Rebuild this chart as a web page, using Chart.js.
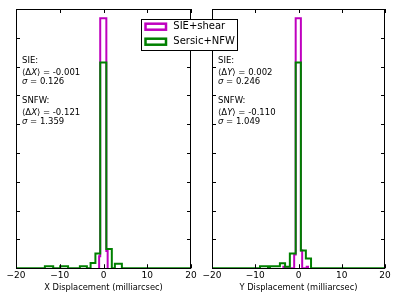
<!DOCTYPE html>
<html>
<head>
<meta charset="utf-8">
<script src="https://cdn.jsdelivr.net/npm/chart.js@4.4.1/dist/chart.umd.min.js"></script>
<style>
    html, body { margin: 0; padding: 0; background: #fff; }
    #wrap { position: relative; width: 399px; height: 299px; overflow: hidden; }
    #wrap canvas { position: absolute; top: 0; }
    #chartX { left: 0; z-index: 2; }
    #chartY { left: 200px; z-index: 1; }
</style>
</head>
<body>
<div id="wrap">
    <canvas id="chartX" width="399" height="299"></canvas>
    <canvas id="chartY" width="199" height="299"></canvas>
</div>
<script>
// Histogram data (bin edges + bar heights, arbitrary units)
const seriesNames = ['SIE+shear', 'Sersic+NFW'];
const seriesColors = ['#bf00bf', '#008000'];

// X displacement panel
const edgesXSie = [-1.0, -0.75, 0.65, 0.95];
const countsXSie = [0.42, 8.68, 0.6];
const edgesXNfw = [-20, -13.4, -11.5, -9.9, -8.1, -5.4, -3.8, -2.95, -1.85, -0.75, 0.65, 1.9, 2.6, 4.2, 20];
const countsXNfw = [0, 0.07, 0, 0.07, 0, 0.07, 0, 0.18, 0.51, 7.14, 0.67, 0, 0.16, 0];

// Y displacement panel
const edgesYSie = [-3.5, -3.2, -1.0, -0.65, 0.55, 0.85, 1.9, 2.2];
const countsYSie = [0.05, 0, 0.48, 8.68, 0.62, 0, 0.05];
const edgesYNfw = [-20, -8.9, -7.05, -6.6, -4.3, -3.1, -2.0, -0.65, 0.55, 1.7, 2.9, 20];
const countsYNfw = [0, 0.07, 0, 0.07, 0.17, 0.05, 0.51, 7.14, 0.62, 0.34, 0];

// Axis settings
const xMin = -20, xMax = 20, xStep = 10;
const yMin = 0, yMax = 9, yStep = 1;
const xTitles = ['X Displacement (milliarcsec)', 'Y Displacement (milliarcsec)'];

// Stats text
const groupNames = ['SIE:', 'SNFW:'];
const meansX = ['-0.001', '-0.121'];
const sigmasX = ['0.126', '1.359'];
const meansY = ['0.002', '-0.110'];
const sigmasY = ['0.246', '1.049'];

const FONT = '"DejaVu Sans", sans-serif';

// turn edges/counts into step points
function stepPoints(edges, counts) {
    const pts = [{ x: edges[0], y: 0 }];
    counts.forEach((c, i) => pts.push({ x: edges[i], y: c }));
    pts.push({ x: edges[edges.length - 1], y: 0 });
    return pts;
}

function makeDataset(i, edges, counts) {
    return {
        label: seriesNames[i],
        data: stepPoints(edges, counts),
        borderColor: seriesColors[i],
        borderWidth: 2,
        stepped: true,
        fill: false,
        pointRadius: 0,
        tension: 0,
        borderJoinStyle: 'miter',
        order: i === 0 ? 2 : 1
    };
}

// inside ticks + axes frame
const framePlugin = {
    id: 'frame',
    afterDatasetsDraw(chart) {
        const { ctx, chartArea: a, scales } = chart;
        ctx.save();
        ctx.strokeStyle = '#000';
        ctx.lineWidth = 1;
        ctx.beginPath();
        scales.x.ticks.forEach(t => {
            const px = Math.round(scales.x.getPixelForValue(t.value)) + 0.5;
            ctx.moveTo(px, a.bottom); ctx.lineTo(px, a.bottom - 4);
            ctx.moveTo(px, a.top); ctx.lineTo(px, a.top + 4);
        });
        scales.y.ticks.forEach(t => {
            const py = Math.round(scales.y.getPixelForValue(t.value)) + 0.5;
            ctx.moveTo(a.left, py); ctx.lineTo(a.left + 4, py);
            ctx.moveTo(a.right, py); ctx.lineTo(a.right - 4, py);
        });
        ctx.stroke();
        ctx.strokeRect(Math.round(a.left) + 0.5, Math.round(a.top) + 0.5,
            Math.round(a.right - a.left) - 1, Math.round(a.bottom - a.top));
        ctx.restore();
    }
};

// text runs: [text, italic]
function drawRuns(ctx, x, y, runs, size) {
    runs.forEach(([txt, it]) => {
        ctx.font = (it ? 'italic ' : '') + size + 'px ' + FONT;
        ctx.fillText(txt, x, y);
        x += ctx.measureText(txt).width;
    });
}

function statsPlugin(axisName, means, sigmas) {
    return {
        id: 'stats',
        afterDraw(chart) {
            const { ctx, chartArea: a } = chart;
            ctx.save();
            ctx.fillStyle = '#000';
            ctx.textBaseline = 'middle';
            const x = a.left + 6;
            groupNames.forEach((g, i) => {
                const y0 = a.top + 52 + i * 39.7;
                drawRuns(ctx, x, y0, [[g, false]], 8.5);
                drawRuns(ctx, x, y0 + 11.7, [['\u27E8\u0394', false], [axisName, true], ['\u27E9', false], [' = ' + means[i], false]], 8.5);
                drawRuns(ctx, x, y0 + 21, [['\u03C3', true], [' = ' + sigmas[i], false]], 8.5);
            });
            ctx.restore();
        }
    };
}

const legendPlugin = {
    id: 'boxLegend',
    afterDraw(chart) {
        const { ctx, chartArea: a } = chart;
        const bx = a.left + 125, by = a.top + 10, bw = 97, bh = 32;
        ctx.save();
        ctx.fillStyle = '#fff';
        ctx.fillRect(bx, by, bw, bh);
        ctx.strokeStyle = '#000';
        ctx.lineWidth = 1;
        ctx.strokeRect(bx + 0.5, by + 0.5, bw - 1, bh - 1);
        ctx.font = '10px ' + FONT;
        ctx.textBaseline = 'middle';
        seriesNames.forEach((name, i) => {
            const cy = by + 7.7 + i * 15;
            ctx.strokeStyle = seriesColors[i];
            ctx.lineWidth = 2.5;
            ctx.strokeRect(bx + 4.5, cy - 3, 20.5, 6);
            ctx.fillStyle = '#000';
            ctx.fillText(name, bx + 32.3, cy);
        });
        ctx.restore();
    }
};

function makeOptions(k, padLeft, padRight) {
    return {
        responsive: false,
        animation: false,
        layout: { padding: { left: padLeft, right: padRight, top: 9, bottom: 6 } },
        plugins: { legend: { display: false }, tooltip: { enabled: false } },
        scales: {
            x: {
                type: 'linear',
                min: xMin, max: xMax,
                grid: { display: false, drawTicks: false },
                border: { display: false },
                ticks: {
                    stepSize: xStep,
                    padding: 2,
                    color: '#000',
                    font: { family: FONT, size: 9 },
                    maxRotation: 0,
                    callback: v => String(v).replace('-', '\u2212')
                },
                title: {
                    display: true,
                    text: xTitles[k],
                    color: '#000',
                    font: { family: FONT, size: 8.3 },
                    padding: { top: 0, bottom: 0 }
                }
            },
            y: {
                min: yMin, max: yMax,
                grid: { display: false, drawTicks: false },
                border: { display: false },
                ticks: { display: false, stepSize: yStep }
            }
        }
    };
}

new Chart(document.getElementById('chartX'), {
    type: 'line',
    data: { datasets: [makeDataset(0, edgesXSie, countsXSie), makeDataset(1, edgesXNfw, countsXNfw)] },
    options: makeOptions(0, 16, 208),
    plugins: [framePlugin, statsPlugin('X', meansX, sigmasX), legendPlugin]
});

new Chart(document.getElementById('chartY'), {
    type: 'line',
    data: { datasets: [makeDataset(0, edgesYSie, countsYSie), makeDataset(1, edgesYNfw, countsYNfw)] },
    options: makeOptions(1, 12, 14),
    plugins: [framePlugin, statsPlugin('Y', meansY, sigmasY)]
});
</script>
</body>
</html>
